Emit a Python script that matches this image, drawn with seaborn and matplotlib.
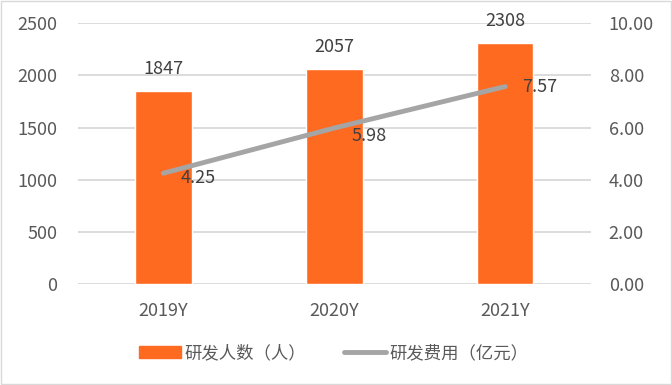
import pandas as pd
import matplotlib.pyplot as plt
import seaborn as sns
from matplotlib.patches import Patch
from matplotlib.lines import Line2D

# Data
years = ['2019Y', '2020Y', '2021Y']
staff = [1847, 2057, 2308]
cost = [4.25, 5.98, 7.57]

df = pd.DataFrame({'year': years, 'staff': staff, 'cost': cost})

sns.set_style('white')
plt.rcParams['font.family'] = ['Noto Sans CJK SC', 'DejaVu Sans']

bar_color = '#FF6A21'
line_color = '#A5A5A5'
text_color = '#595959'
grid_color = '#D9D9D9'

fig = plt.figure(figsize=(6.72, 3.85), dpi=100)
ax = fig.add_axes([0.116, 0.262, 0.763, 0.678])

# Bars: R&D staff
sns.barplot(data=df, x='year', y='staff', color=bar_color, width=0.33,
            saturation=1, ax=ax, zorder=2)
ax.set_ylim(0, 2500)
ax.set_yticks(range(0, 2501, 500))
ax.yaxis.grid(True, color=grid_color, linewidth=1.3, zorder=0)
ax.set_axisbelow(True)
ax.set_xlabel('')
ax.set_ylabel('')
ax.set_xlim(-0.5, 2.5)
for s in ax.spines.values():
    s.set_visible(False)
ax.tick_params(axis='both', length=0, labelsize=13, labelcolor=text_color)
ax.tick_params(axis='x', pad=13)
ax.tick_params(axis='y', pad=15)
for i, v in enumerate(staff):
    ax.text(i, v + 130, str(v), ha='center', va='bottom', fontsize=13, color='#404040')

# Line: R&D cost on secondary axis
ax2 = ax.twinx()
sns.lineplot(x=range(len(years)), y=cost, color=line_color, linewidth=3.5, ax=ax2,
             solid_capstyle='round', zorder=3)
ax2.set_ylim(0, 10)
ax2.set_yticks(range(0, 11, 2))
ax2.set_yticklabels([f'{t:.2f}' for t in range(0, 11, 2)])
for s in ax2.spines.values():
    s.set_visible(False)
ax2.tick_params(axis='y', length=0, labelsize=13, labelcolor=text_color, pad=13)
offsets = [(0.1, -0.2), (0.1, -0.3), (0.1, 0.0)]
for i, v in enumerate(cost):
    dx, dy = offsets[i]
    ax2.text(i + dx, v + dy, f'{v:.2f}', ha='left', va='center', fontsize=13, color='#404040')

# Legend
handles = [Patch(color=bar_color, label='研发人数（人）'),
           Line2D([0], [0], color=line_color, linewidth=3.5, label='研发费用（亿元）')]
fig.legend(handles=handles, loc='center', bbox_to_anchor=(0.497, 0.083), ncol=2,
           frameon=False, fontsize=12.5, labelcolor=text_color, handlelength=2.4,
           columnspacing=2.2, handletextpad=0.2)

# Outer frame
fig.patches.append(plt.Rectangle((0.002, 0.002), 0.996, 0.996, transform=fig.transFigure,
                                 fill=False, edgecolor='#D9D9D9', linewidth=1))

fig.savefig('out.png', dpi=100)
